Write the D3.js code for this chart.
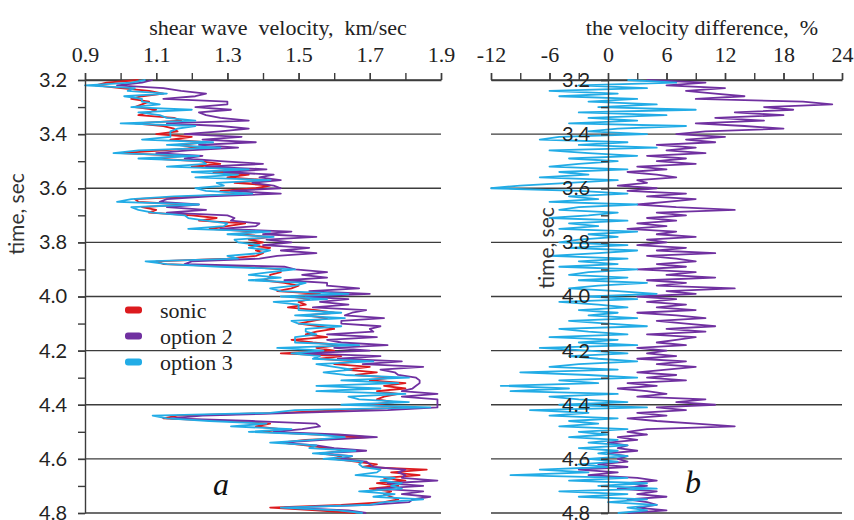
<!DOCTYPE html>
<html><head><meta charset="utf-8">
<script src="https://cdn.jsdelivr.net/npm/d3@7"></script>
<style>body{margin:0;background:#fff}</style>
</head><body><svg id="c" width="854" height="520"></svg>
<script>
const t0 = 3.2, dt = 0.01;
const sonic = [
1.05,0.96,0.93,1.00,1.08,1.12,1.06,1.03,1.08,1.06,
1.04,1.10,1.08,1.05,1.15,1.17,1.04,1.12,1.15,1.16,
1.10,1.20,1.14,1.24,1.16,1.22,1.12,1.00,1.18,1.09,
1.22,1.28,1.20,1.33,1.26,1.36,1.30,1.41,1.32,1.42,
1.38,1.28,1.34,1.20,1.04,1.05,1.18,1.06,1.10,1.08,
1.20,1.27,1.22,1.35,1.30,1.25,1.38,1.33,1.42,1.36,
1.40,1.36,1.42,1.38,1.40,1.38,1.30,1.10,1.12,1.35,
1.45,1.45,1.42,1.42,1.40,1.46,1.50,1.48,1.44,1.56,
1.48,1.53,1.50,1.52,1.47,1.55,1.60,1.52,1.58,1.54,
1.50,1.56,1.60,1.55,1.52,1.58,1.48,1.54,1.62,1.55,
1.60,1.45,1.62,1.56,1.66,1.60,1.70,1.63,1.72,1.66,
1.76,1.70,1.80,1.74,1.80,1.72,1.78,1.74,1.72,1.77,
1.70,1.80,1.62,1.45,1.16,1.12,1.30,1.42,1.38,1.45,
1.40,1.55,1.70,1.52,1.45,1.52,1.58,1.64,1.56,1.62,
1.60,1.66,1.72,1.68,1.86,1.76,1.84,1.74,1.80,1.72,
1.78,1.70,1.76,1.74,1.76,1.78,1.74,1.62,1.42,1.55,1.66];
const option2 = [
1.09,1.06,0.99,1.12,1.17,1.24,1.21,1.12,1.30,1.30,
1.21,1.31,1.22,1.24,1.28,1.36,1.13,1.28,1.36,1.28,
1.18,1.34,1.23,1.38,1.22,1.33,1.19,1.10,1.23,1.18,
1.28,1.40,1.24,1.41,1.29,1.43,1.39,1.45,1.37,1.43,
1.45,1.31,1.45,1.25,1.13,1.11,1.22,1.13,1.24,1.13,
1.30,1.32,1.31,1.39,1.38,1.28,1.48,1.40,1.55,1.41,
1.48,1.40,1.53,1.45,1.55,1.44,1.39,1.20,1.18,1.46,
1.49,1.58,1.51,1.58,1.46,1.58,1.58,1.67,1.53,1.70,
1.52,1.64,1.56,1.64,1.54,1.69,1.65,1.63,1.74,1.62,
1.62,1.73,1.70,1.71,1.58,1.72,1.58,1.62,1.75,1.60,
1.70,1.51,1.73,1.61,1.79,1.68,1.85,1.73,1.77,1.78,
1.83,1.84,1.84,1.83,1.82,1.79,1.89,1.79,1.89,1.89,
1.89,1.89,1.75,1.49,1.23,1.14,1.37,1.55,1.56,1.51,
1.43,1.61,1.72,1.57,1.45,1.55,1.60,1.69,1.56,1.65,
1.62,1.69,1.70,1.71,1.80,1.78,1.80,1.79,1.89,1.75,
1.85,1.72,1.85,1.79,1.87,1.82,1.81,1.70,1.46,1.64,1.69];
const option3 = [
1.07,1.03,0.90,1.04,1.02,1.13,1.01,1.06,1.06,1.11,
1.03,1.20,1.05,1.11,1.13,1.21,1.00,1.21,1.16,1.14,
1.14,1.14,1.06,1.26,1.13,1.28,1.05,0.98,1.22,1.05,
1.23,1.24,1.13,1.36,1.20,1.33,1.21,1.42,1.27,1.29,
1.21,1.24,1.37,1.15,1.03,0.99,1.22,1.03,1.05,1.09,
1.18,1.19,1.24,1.30,1.29,1.19,1.42,1.30,1.43,1.32,
1.33,1.39,1.36,1.42,1.39,1.30,1.33,1.07,1.13,1.28,
1.49,1.42,1.36,1.45,1.36,1.52,1.49,1.42,1.45,1.64,
1.45,1.58,1.43,1.50,1.50,1.50,1.62,1.49,1.63,1.48,
1.50,1.62,1.52,1.52,1.55,1.49,1.49,1.49,1.67,1.44,
1.57,1.48,1.56,1.54,1.71,1.55,1.60,1.65,1.57,1.63,
1.81,1.62,1.78,1.55,1.73,1.55,1.80,1.64,1.67,1.81,
1.62,1.87,1.49,1.42,1.09,1.13,1.25,1.41,1.31,1.48,
1.36,1.55,1.63,1.54,1.42,1.55,1.53,1.66,1.54,1.65,
1.57,1.68,1.67,1.68,1.73,1.72,1.66,1.77,1.73,1.79,
1.76,1.79,1.67,1.77,1.71,1.85,1.74,1.70,1.45,1.61,1.68];
const diff2 = [
4,10,6,12,8,11,14,9,20,23,
16,19,13,18,11,16,9,14,18,10,
7,12,8,11,5,9,6,10,4,8,
5,9,3,6,2,5,7,3,4,1,
5,2,8,4,9,6,3,7,13,5,
8,4,7,3,6,2,7,5,9,4,
6,3,8,5,11,4,7,9,5,8,
3,9,6,11,4,8,5,13,6,9,
3,7,4,8,5,9,3,7,10,5,
8,11,6,10,4,9,7,5,8,3,
6,4,7,3,8,5,9,6,3,7,
4,8,2,5,1,4,6,3,10,7,
11,5,8,3,6,2,5,9,13,4,
2,4,1,3,0,2,1,3,0,2,
1,2,-1,2,-3,1,-2,3,5,2,
4,1,5,3,6,2,4,5,3,6,2];
const diff3 = [
2,7,-3,4,-6,1,-5,3,-2,5,
-1,9,-3,6,-2,3,-4,8,1,-2,
4,-5,-7,2,-3,5,-6,-2,3,-4,
1,-3,-6,2,-5,-2,-7,1,-4,-9,
-12,-3,2,-4,-1,-6,3,-3,-5,1,
-2,-6,2,-4,-1,-5,3,-2,1,-3,
-5,2,-4,3,-1,-6,2,-3,1,-5,
3,-2,-4,2,-3,4,-1,-4,1,5,
-2,3,-5,-1,2,-3,1,-2,3,-4,
0,4,-5,-2,2,-6,1,-3,3,-7,
-2,2,-4,-1,3,-3,-6,1,-9,-2,
3,-5,-1,-11,-4,-10,1,-6,-3,2,
-5,4,-8,-2,-6,1,-4,-1,-5,2,
-3,0,-4,1,-2,2,-3,1,-1,2,
-2,1,-3,0,-7,-2,-10,2,-4,4,
-1,5,-5,2,-3,4,0,5,2,4,1];
const velTicks = [0.9,1.1,1.3,1.5,1.7,1.9];
const velMinor = [0.9,1.0,1.1,1.2,1.3,1.4,1.5,1.6,1.7,1.8,1.9];
const diffTicks = [-12,-6,0,6,12,18,24];
const diffMinor = [-12,-9,-6,-3,0,3,6,9,12,15,18,21,24];
const timeTicks = [3.2,3.4,3.6,3.8,4.0,4.2,4.4,4.6,4.8];
const timeMinor = [3.2,3.3,3.4,3.5,3.6,3.7,3.8,3.9,4.0,4.1,4.2,4.3,4.4,4.5,4.6,4.7,4.8];
const seriesNames = ["sonic","option 2","option 3"];
const colors = ["#dc1a1e","#7030a0","#22ace6"];

const svg = d3.select("#c");
const times = sonic.map((_, i) => +(t0 + i * dt).toFixed(2));
const y = d3.scaleLinear().domain([3.2, 4.8]).range([80, 513]);
const xL = d3.scaleLinear().domain([0.9, 1.9]).range([85, 441]);
const xR = d3.scaleLinear().domain([-12, 24]).range([491, 842]);
const gridCol = "#3c3c3c";
const serif = "'Liberation Serif','Times New Roman',serif";
const sans = "Lato,'Liberation Sans',sans-serif";

function grid(x) {
  svg.append("g").selectAll("line").data(timeTicks).join("line")
    .attr("x1", x.range()[0]).attr("x2", x.range()[1])
    .attr("y1", d => y(d)).attr("y2", d => y(d))
    .attr("stroke", gridCol).attr("stroke-width", 1.4);
}
grid(xL); grid(xR);

function styleAxis(g, font, size) {
  g.selectAll("path,line").attr("stroke", gridCol).attr("stroke-width", 1.4);
  g.selectAll("text").attr("fill", "#222").style("font-family", font).style("font-size", size + "px");
}

function topAxis(x, minor, major, fmt) {
  const g1 = svg.append("g").attr("transform", "translate(0,80)")
    .call(d3.axisTop(x).tickValues(minor).tickSize(7).tickSizeOuter(0).tickFormat(""));
  styleAxis(g1, serif, 22);
  const g2 = svg.append("g").attr("transform", "translate(0,80)")
    .call(d3.axisTop(x).tickValues(major).tickSize(7).tickPadding(11).tickSizeOuter(0).tickFormat(fmt));
  styleAxis(g2, serif, 22);
  g2.select(".domain").remove();
}
topAxis(xL, velMinor, velTicks, d3.format(".1f"));
topAxis(xR, diffMinor, diffTicks, d => d3.format("d")(d).replace("−", "-"));

// lines
const line = (x) => d3.line().x(d => x(d[1])).y(d => y(d[0]));
[sonic, option2, option3].forEach((s, i) => {
  svg.append("path").datum(times.map((t, k) => [t, s[k]]))
    .attr("d", line(xL)).attr("fill", "none")
    .attr("stroke", colors[i]).attr("stroke-width", 1.8).attr("stroke-linejoin", "round");
});
[diff2, diff3].forEach((s, i) => {
  svg.append("path").datum(times.map((t, k) => [t, s[k]]))
    .attr("d", line(xR)).attr("fill", "none")
    .attr("stroke", colors[i + 1]).attr("stroke-width", 1.8).attr("stroke-linejoin", "round");
});

function leftAxis(x0) {
  const g1 = svg.append("g").attr("transform", `translate(${x0},0)`)
    .call(d3.axisLeft(y).tickValues(timeMinor).tickSize(7).tickSizeOuter(0).tickFormat(""));
  styleAxis(g1, sans, 20);
  const g2 = svg.append("g").attr("transform", `translate(${x0},0)`)
    .call(d3.axisLeft(y).tickValues(timeTicks).tickSize(7).tickPadding(11).tickSizeOuter(0).tickFormat(d3.format(".1f")));
  styleAxis(g2, sans, 20);
  g2.select(".domain").remove();
}
leftAxis(xL(0.9));
leftAxis(xR(0));

// titles
svg.append("text").attr("x", 278).attr("y", 35).attr("text-anchor", "middle")
  .style("font-family", serif).style("font-size", "22px").attr("fill", "#222")
  .attr("xml:space", "preserve").text("shear wave  velocity,  km/sec");
svg.append("text").attr("x", 702).attr("y", 35).attr("text-anchor", "middle")
  .style("font-family", serif).style("font-size", "22px").attr("fill", "#222")
  .attr("xml:space", "preserve").text("the velocity difference,  %");
[[15, 214], [545, 248]].forEach(([cx, cy]) => {
  svg.append("text").attr("transform", `translate(${cx},${cy}) rotate(-90)`)
    .attr("text-anchor", "middle").attr("dominant-baseline", "central")
    .style("font-family", sans).style("font-size", "21px").attr("fill", "#333").text("time, sec");
});
svg.append("text").attr("x", 221).attr("y", 495).attr("text-anchor", "middle")
  .style("font-family", serif).style("font-style", "italic").style("font-size", "32px").attr("fill", "#111").text("a");
svg.append("text").attr("x", 693).attr("y", 493).attr("text-anchor", "middle")
  .style("font-family", serif).style("font-style", "italic").style("font-size", "32px").attr("fill", "#111").text("b");

// legend
const lg = svg.append("g");
seriesNames.forEach((n, i) => {
  const cy = 310 + i * 26;
  lg.append("rect").attr("x", 125).attr("y", cy - 3.5).attr("width", 17).attr("height", 7).attr("rx", 3)
    .attr("fill", colors[i]);
  lg.append("text").attr("x", 160).attr("y", cy + 8).style("font-family", serif).style("font-size", "22px")
    .attr("fill", "#222").text(n);
});
</script></body></html>
